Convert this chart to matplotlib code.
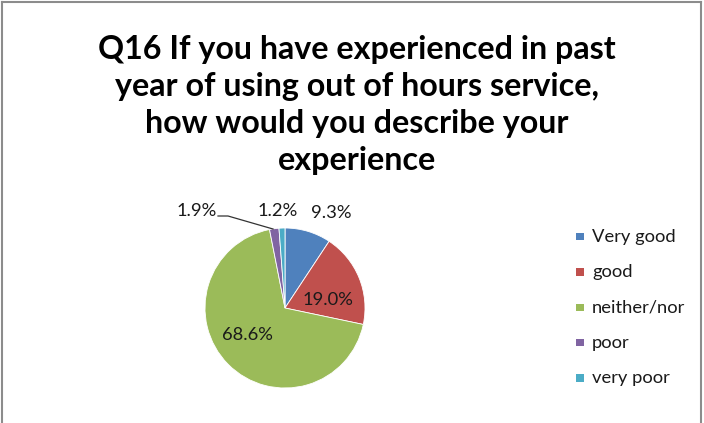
import numpy as np
import matplotlib
matplotlib.use("Agg")
import matplotlib.pyplot as plt
from matplotlib.patches import Rectangle

categories = ["Very good", "good", "neither/nor", "poor", "very poor"]
shares = [9.3, 19.0, 68.6, 1.9, 1.2]
colors = ["#4F81BD", "#C0504D", "#9BBB59", "#8064A2", "#4BACC6"]
title = ("Q16 If you have experienced in past\n"
         "year of using out of hours service,\n"
         "how would you describe your\n"
         "experience")

W, H = 704, 423
fig = plt.figure(figsize=(W / 100, H / 100), dpi=100)
fig.patch.set_facecolor("white")

# outer frame (left, top, right)
frame_kw = dict(color="#8C8C8C", lw=1.5, transform=fig.transFigure)
fig.add_artist(plt.Line2D([2 / W, 2 / W], [0, 1 - 2 / H], **frame_kw))
fig.add_artist(plt.Line2D([2 / W, 701 / W], [1 - 2 / H, 1 - 2 / H], **frame_kw))
fig.add_artist(plt.Line2D([701 / W, 701 / W], [0, 1 - 2 / H], **frame_kw))

fig.text(357 / W, 1 - 105 / H, title, ha="center", va="center",
         fontsize=23.2, fontweight="bold", family="Lato", linespacing=1.32)

# pie
cx, cy, r = 285, 308, 80
ax = fig.add_axes([(cx - r) / W, (H - cy - r) / H, 2 * r / W, 2 * r / H])
ax.pie(shares, colors=colors, startangle=90, counterclock=False, radius=1,
       wedgeprops=dict(linewidth=0.6, edgecolor="white"))
ax.set_xlim(-1, 1)
ax.set_ylim(-1, 1)
ax.set_aspect("equal")
ax.axis("off")

# label positions in pixels
label_px = [(331, 213), (328, 300), (247, 335), (197, 211), (278, 211)]
for val, (px, py) in zip(shares, label_px):
    fig.text(px / W, 1 - py / H, f"{val:.1f}%", ha="center", va="center",
             fontsize=13.2, family="Lato", color="#1A1A1A")

# leader line for the small "poor" slice
lx = [218 / W, 228 / W, 273 / W]
ly = [1 - 216 / H, 1 - 216 / H, 1 - 229 / H]
fig.add_artist(plt.Line2D(lx, ly, color="#333333", lw=0.9, transform=fig.transFigure))

# legend
for i, (name, col) in enumerate(zip(categories, colors)):
    y = 237 + i * 35.3
    fig.add_artist(Rectangle((576 / W, 1 - (y + 3.5) / H), 7.5 / W, 7.5 / H,
                             facecolor=col, edgecolor="none",
                             transform=fig.transFigure))
    fig.text(592 / W, 1 - y / H, name, ha="left", va="center",
             fontsize=13.2, family="Lato", color="#1A1A1A")

fig.savefig("out.png", dpi=100, facecolor="white")
